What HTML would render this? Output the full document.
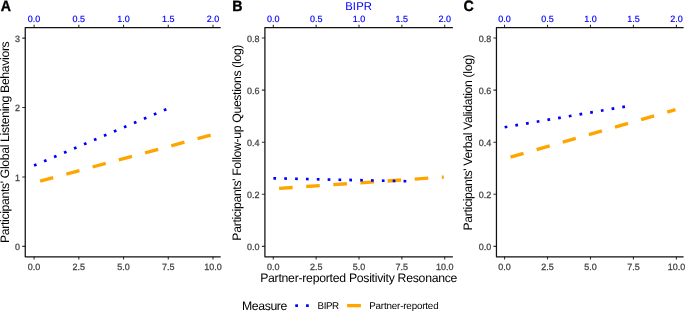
<!DOCTYPE html>
<html><head><meta charset="utf-8"><title>Figure</title>
<style>
html,body{margin:0;padding:0;background:#fff}
body{width:685px;height:315px;overflow:hidden}
svg{display:block;will-change:transform}
text{font-family:"Liberation Sans",sans-serif;text-rendering:geometricPrecision}
.t{font-size:12.25px;fill:#000}
.x{font-size:9.15px;fill:#444444;stroke:#444444;stroke-width:0.26px}
.bx{font-size:9.15px;fill:#0000ff;stroke:#0000ff;stroke-width:0.18px}
.lg{font-size:9.8px;fill:#000}
.tag{font-size:15.0px;font-weight:bold;fill:#000;stroke:#000;stroke-width:0.35px}
</style></head><body>
<svg width="685" height="315" viewBox="0 0 685 315">
<rect width="685" height="315" fill="#fff"/>
<g>
<line x1="40.10" y1="181.16" x2="212.20" y2="134.75" stroke="#ffa500" stroke-width="3.35" stroke-dasharray="13.58 13.6"/>
<line x1="34.05" y1="165.45" x2="167.60" y2="108.75" stroke="#0000ff" stroke-width="2.7" stroke-dasharray="2.7 8.15"/>
<path d="M34.10 27.60v-2.75M34.10 256.80v2.75M78.83 27.60v-2.75M78.83 256.80v2.75M123.55 27.60v-2.75M123.55 256.80v2.75M168.28 27.60v-2.75M168.28 256.80v2.75M213.00 27.60v-2.75M213.00 256.80v2.75M25.25 246.40h-3.05M25.25 177.00h-3.05M25.25 107.50h-3.05M25.25 38.10h-3.05" stroke="#333333" stroke-width="1.1" fill="none"/>
<path d="M220.70 27.60H25.25V256.80H220.70" stroke="#111" stroke-width="1.25" stroke-linejoin="round" fill="none"/>
<text class="bx" transform="translate(34.10 22.00) scale(0.9850 1.0000)" text-anchor="middle">0.0</text><text class="bx" transform="translate(78.83 22.00) scale(0.9850 1.0000)" text-anchor="middle">0.5</text><text class="bx" transform="translate(123.55 22.00) scale(0.9850 1.0000)" text-anchor="middle">1.0</text><text class="bx" transform="translate(168.28 22.00) scale(0.9850 1.0000)" text-anchor="middle">1.5</text><text class="bx" transform="translate(213.00 22.00) scale(0.9850 1.0000)" text-anchor="middle">2.0</text>
<text class="x" transform="translate(34.10 269.50) scale(0.9850 1.0000)" text-anchor="middle">0.0</text><text class="x" transform="translate(78.83 269.50) scale(0.9850 1.0000)" text-anchor="middle">2.5</text><text class="x" transform="translate(123.55 269.50) scale(0.9850 1.0000)" text-anchor="middle">5.0</text><text class="x" transform="translate(168.28 269.50) scale(0.9850 1.0000)" text-anchor="middle">7.5</text><text class="x" transform="translate(213.00 269.50) scale(0.9850 1.0000)" text-anchor="middle">10.0</text>
<text class="x" transform="translate(19.95 250.35) scale(0.9850 1.0000)" text-anchor="end">0</text><text class="x" transform="translate(19.95 180.95) scale(0.9850 1.0000)" text-anchor="end">1</text><text class="x" transform="translate(19.95 111.45) scale(0.9850 1.0000)" text-anchor="end">2</text><text class="x" transform="translate(19.95 42.05) scale(0.9850 1.0000)" text-anchor="end">3</text>
<text class="t" transform="translate(9.00 142.15) rotate(-90)" text-anchor="middle" textLength="201.80" lengthAdjust="spacing">Participants&#39; Global Listening Behaviors</text>
<text class="tag" transform="translate(0.85 10.85) scale(0.9450 1.0000)" text-anchor="start">A</text>
</g>
<g>
<line x1="279.10" y1="188.40" x2="443.80" y2="177.10" stroke="#ffa500" stroke-width="3.35" stroke-dasharray="13.58 13.6"/>
<line x1="273.40" y1="178.28" x2="407.00" y2="181.25" stroke="#0000ff" stroke-width="2.7" stroke-dasharray="2.7 8.15"/>
<path d="M273.30 27.60v-2.75M273.30 256.80v2.75M316.15 27.60v-2.75M316.15 256.80v2.75M359.00 27.60v-2.75M359.00 256.80v2.75M401.85 27.60v-2.75M401.85 256.80v2.75M444.70 27.60v-2.75M444.70 256.80v2.75M264.90 246.40h-3.05M264.90 194.30h-3.05M264.90 142.20h-3.05M264.90 90.15h-3.05M264.90 38.05h-3.05" stroke="#333333" stroke-width="1.1" fill="none"/>
<path d="M452.90 27.60H264.90V256.80H452.90" stroke="#111" stroke-width="1.25" stroke-linejoin="round" fill="none"/>
<text class="bx" transform="translate(273.30 22.00) scale(0.9850 1.0000)" text-anchor="middle">0.0</text><text class="bx" transform="translate(316.15 22.00) scale(0.9850 1.0000)" text-anchor="middle">0.5</text><text class="bx" transform="translate(359.00 22.00) scale(0.9850 1.0000)" text-anchor="middle">1.0</text><text class="bx" transform="translate(401.85 22.00) scale(0.9850 1.0000)" text-anchor="middle">1.5</text><text class="bx" transform="translate(444.70 22.00) scale(0.9850 1.0000)" text-anchor="middle">2.0</text>
<text class="x" transform="translate(273.30 269.50) scale(0.9850 1.0000)" text-anchor="middle">0.0</text><text class="x" transform="translate(316.15 269.50) scale(0.9850 1.0000)" text-anchor="middle">2.5</text><text class="x" transform="translate(359.00 269.50) scale(0.9850 1.0000)" text-anchor="middle">5.0</text><text class="x" transform="translate(401.85 269.50) scale(0.9850 1.0000)" text-anchor="middle">7.5</text><text class="x" transform="translate(444.70 269.50) scale(0.9850 1.0000)" text-anchor="middle">10.0</text>
<text class="x" transform="translate(259.60 250.35) scale(0.9850 1.0000)" text-anchor="end">0.0</text><text class="x" transform="translate(259.60 198.25) scale(0.9850 1.0000)" text-anchor="end">0.2</text><text class="x" transform="translate(259.60 146.15) scale(0.9850 1.0000)" text-anchor="end">0.4</text><text class="x" transform="translate(259.60 94.10) scale(0.9850 1.0000)" text-anchor="end">0.6</text><text class="x" transform="translate(259.60 42.00) scale(0.9850 1.0000)" text-anchor="end">0.8</text>
<text class="t" transform="translate(240.55 142.60) rotate(-90)" text-anchor="middle" textLength="196.10" lengthAdjust="spacing">Participants&#39; Follow-up Questions (log)</text>
<text class="t" transform="translate(358.80 281.90)" text-anchor="middle" textLength="197.30" lengthAdjust="spacing">Partner-reported Positivity Resonance</text>
<text class="t" transform="translate(358.60 10.20)" text-anchor="middle" style="font-size:11.3px;fill:#0000ff" textLength="26.90" lengthAdjust="spacing">BIPR</text>
<text class="tag" transform="translate(232.20 10.85) scale(0.9450 1.0000)" text-anchor="start">B</text>
</g>
<g>
<line x1="510.50" y1="157.10" x2="675.50" y2="109.65" stroke="#ffa500" stroke-width="3.35" stroke-dasharray="13.58 13.6"/>
<line x1="504.65" y1="127.23" x2="626.50" y2="106.35" stroke="#0000ff" stroke-width="2.7" stroke-dasharray="2.7 8.15"/>
<path d="M504.55 27.60v-2.75M504.55 256.80v2.75M547.51 27.60v-2.75M547.51 256.80v2.75M590.48 27.60v-2.75M590.48 256.80v2.75M633.44 27.60v-2.75M633.44 256.80v2.75M676.40 27.60v-2.75M676.40 256.80v2.75M496.45 246.40h-3.05M496.45 194.30h-3.05M496.45 142.20h-3.05M496.45 90.15h-3.05M496.45 38.05h-3.05" stroke="#333333" stroke-width="1.1" fill="none"/>
<path d="M683.60 27.60H496.45V256.80H683.60" stroke="#111" stroke-width="1.25" stroke-linejoin="round" fill="none"/>
<text class="bx" transform="translate(504.55 22.00) scale(0.9850 1.0000)" text-anchor="middle">0.0</text><text class="bx" transform="translate(547.51 22.00) scale(0.9850 1.0000)" text-anchor="middle">0.5</text><text class="bx" transform="translate(590.48 22.00) scale(0.9850 1.0000)" text-anchor="middle">1.0</text><text class="bx" transform="translate(633.44 22.00) scale(0.9850 1.0000)" text-anchor="middle">1.5</text><text class="bx" transform="translate(676.40 22.00) scale(0.9850 1.0000)" text-anchor="middle">2.0</text>
<text class="x" transform="translate(504.55 269.50) scale(0.9850 1.0000)" text-anchor="middle">0.0</text><text class="x" transform="translate(547.51 269.50) scale(0.9850 1.0000)" text-anchor="middle">2.5</text><text class="x" transform="translate(590.48 269.50) scale(0.9850 1.0000)" text-anchor="middle">5.0</text><text class="x" transform="translate(633.44 269.50) scale(0.9850 1.0000)" text-anchor="middle">7.5</text><text class="x" transform="translate(676.40 269.50) scale(0.9850 1.0000)" text-anchor="middle">10.0</text>
<text class="x" transform="translate(491.15 250.35) scale(0.9850 1.0000)" text-anchor="end">0.0</text><text class="x" transform="translate(491.15 198.25) scale(0.9850 1.0000)" text-anchor="end">0.2</text><text class="x" transform="translate(491.15 146.15) scale(0.9850 1.0000)" text-anchor="end">0.4</text><text class="x" transform="translate(491.15 94.10) scale(0.9850 1.0000)" text-anchor="end">0.6</text><text class="x" transform="translate(491.15 42.00) scale(0.9850 1.0000)" text-anchor="end">0.8</text>
<text class="t" transform="translate(471.90 142.40) rotate(-90)" text-anchor="middle" textLength="176.20" lengthAdjust="spacing">Participants&#39; Verbal Validation (log)</text>
<text class="tag" transform="translate(463.60 10.85) scale(0.9450 1.0000)" text-anchor="start">C</text>
</g>
<g>
<text class="t" transform="translate(242.00 309.80)" text-anchor="start" textLength="45.40" lengthAdjust="spacing">Measure</text>
<rect x="295.25" y="304.3" width="2.7" height="2.7" fill="#0000ff"/><rect x="306.05" y="304.3" width="2.7" height="2.7" fill="#0000ff"/>
<text class="lg" transform="translate(317.50 308.90)" text-anchor="start" textLength="21.70" lengthAdjust="spacing">BIPR</text>
<rect x="347.1" y="303.95" width="13.8" height="3.35" fill="#ffa500"/>
<text class="lg" transform="translate(369.20 308.90)" text-anchor="start" textLength="69.40" lengthAdjust="spacing">Partner-reported</text>
</g>
</svg>
</body></html>
